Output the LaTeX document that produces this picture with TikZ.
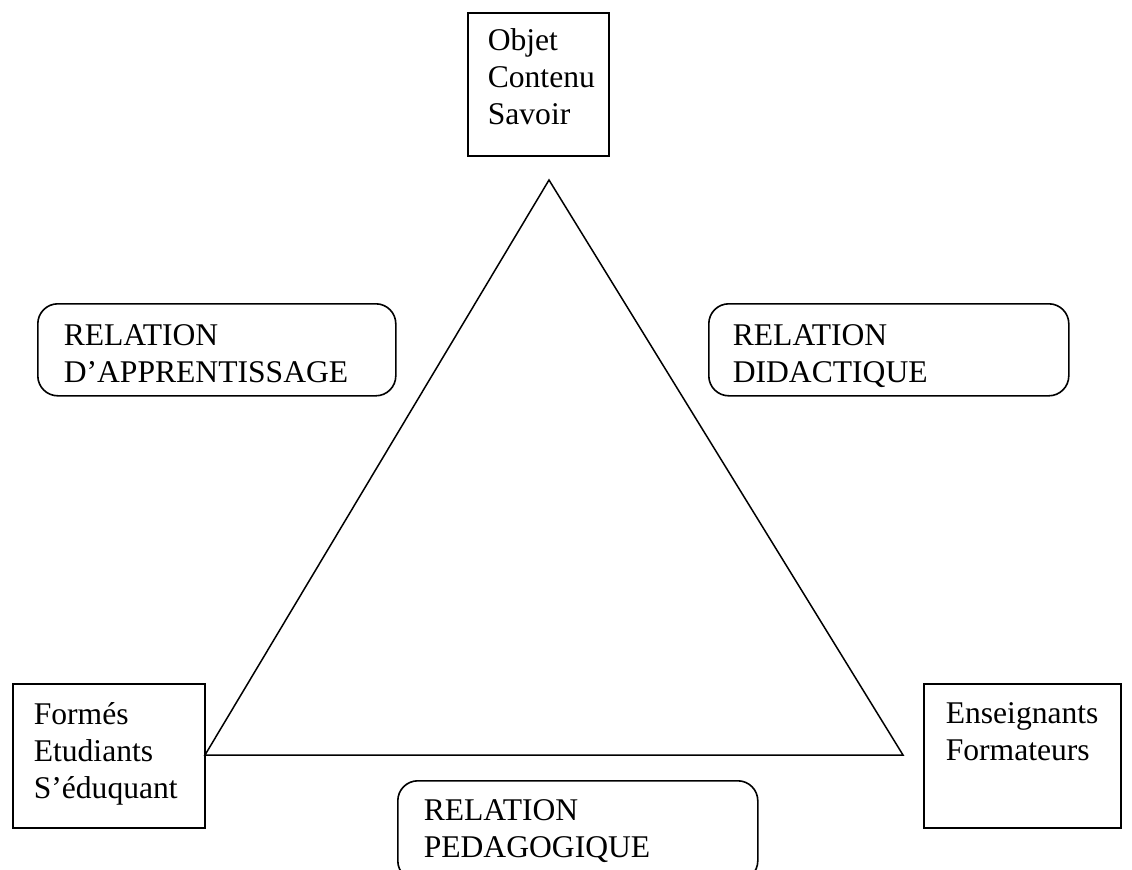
\documentclass[tikz,border=0pt]{standalone}
\usepackage{fontspec}
\setmainfont{Liberation Serif}
\begin{document}
\begin{tikzpicture}[x=1bp,y=-1bp,
  every node/.style={font=\fontsize{31.6bp}{37bp}\selectfont},
  sqbox/.style={draw, line width=1.6bp, anchor=north west, inner sep=0pt},
  rbox/.style={sqbox, rounded corners=20bp},
  tri/.style={draw, line width=1.5bp, line join=miter}]
\newcommand{\boxtext}[5]{\parbox[t][#2bp][t]{#1bp}{\hspace*{#3bp}\rule{0pt}{#4bp}\ignorespaces#5}}
\useasboundingbox (0,0) rectangle (1132,870);
\clip (0,0) rectangle (1132,870);
% boxes: (x,y) top-left; parbox width = w, height = h
\node[sqbox] (obj) at (467,12)
  {\boxtext{141}{143}{20}{38}{\parbox[t]{120bp}{Objet\\Contenu\\Savoir}}};
\node[sqbox] (forme) at (12,683)
  {\boxtext{192}{144}{21}{41}{\parbox[t]{170bp}{Formés\\Etudiants\\S’éduquant}}};
\node[sqbox] (ens) at (923,683)
  {\boxtext{197}{144}{22}{40}{\parbox[t]{175bp}{Enseignants\\Formateurs}}};
\node[rbox] (rapp) at (37,303)
  {\boxtext{358}{92}{26}{42}{\parbox[t]{330bp}{RELATION\\D’APPRENTISSAGE}}};
\node[rbox] (rdid) at (708,303)
  {\boxtext{360}{92}{24}{42}{\parbox[t]{330bp}{RELATION\\DIDACTIQUE}}};
\node[rbox] (rped) at (397,780)
  {\boxtext{360}{100}{26}{40}{\parbox[t]{330bp}{RELATION\\PEDAGOGIQUE}}};
% triangle
\coordinate (apex) at (549,180);
\coordinate (tl) at (205,755);
\coordinate (tr) at (903,755);
\draw[tri] (apex) -- (tl) -- (tr) -- cycle;
\end{tikzpicture}
\end{document}
